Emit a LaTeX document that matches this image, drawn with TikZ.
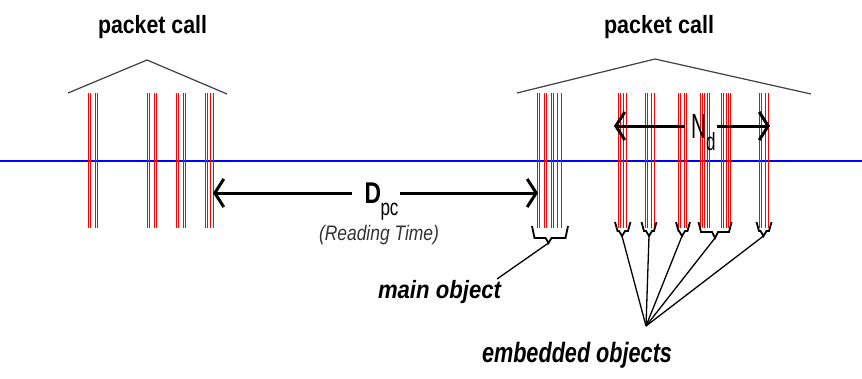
\documentclass[tikz,border=0pt]{standalone}
\usepackage{fontspec}
\setmainfont{Liberation Sans}
\usetikzlibrary{arrows.meta}
\newcommand\hfit[3]{\resizebox{#1}{\height}{\fontsize{#2}{#2}\selectfont #3}}
\newcommand\brk[6]{% xl xr xm ytop ysh ytip
  \draw[brkline] (#1,#4) -- ({#1+2.5},#5) -- ({#3-3},#5) -- (#3,#6) -- ({#3+3},#5) -- ({#2-2.5},#5) -- (#2,#4);}
\begin{document}
\begin{tikzpicture}[x=1pt,y=-1pt,
  txt/.style={inner sep=0pt, outer sep=0pt, anchor=base west},
  redline/.style={red, line width=1pt},
  roof/.style={black!75, line width=1.2pt},
  brkline/.style={black, line width=1.8pt, line join=miter},
  pointer/.style={black, line width=1.3pt},
  arr/.style={black, line width=3pt, -{Straight Barb[length=9pt,width=28pt]}}]
\useasboundingbox (0,0) rectangle (862,378);
\fill[white] (0,0) rectangle (862,378);

% time axis
\coordinate (axL) at (0,161);
\coordinate (axR) at (862,161);
\draw[blue, line width=1.6pt] (axL) -- (axR);

% left packet call
\node[txt] (pcL) at (98,33) {\hfit{109pt}{25pt}{\bfseries packet call}};
\coordinate (r1a) at (68,93);
\coordinate (r1p) at (147,60);
\coordinate (r1b) at (227,94);
\draw[roof] (r1a) -- (r1p) -- (r1b);
\foreach \x in {88.5,90.5,95.5,97.5, 147.5,149.5,154.5,156.5, 176.5,178.5,183.5,185.5, 205.5,207.5,210.5,213.5}
  \draw[redline] (\x,93) -- (\x,228);

% right packet call
\node[txt] (pcR) at (604,33) {\hfit{110pt}{25pt}{\bfseries packet call}};
\coordinate (r2a) at (517,93);
\coordinate (r2p) at (655,59);
\coordinate (r2b) at (811,94);
\draw[roof] (r2a) -- (r2p) -- (r2b);
% main object
\foreach \x in {537.5,539.5,544.5,546.5,551.5,553.5,557.5,561.5}
  \draw[redline] (\x,93) -- (\x,228);
% embedded objects
\foreach \x in {618.5,620.5,623.5,626.5, 645.5,647.5,651.5,654.5, 678.5,680.5,684.5,686.5,
                700.5,702.5,704.5,707.5,709.5, 721.5,723.5,726.5,728.5,730.5, 759.5,761.5,765.5,768.5}
  \draw[redline] (\x,93) -- (\x,228);

% brackets
\coordinate (tm) at (548.5,243);
\brk{532}{568}{548.5}{226}{238}{243}
\coordinate (t1) at (622,236);
\brk{615}{630.5}{622}{222}{231}{236}
\coordinate (t2) at (649,236);
\brk{641.5}{656.5}{649}{222}{231}{236}
\coordinate (t3) at (682,236);
\brk{676}{690}{682}{222}{231}{236}
\coordinate (t4) at (715,238);
\brk{698.5}{731.5}{715}{222}{232}{238}
\coordinate (t5) at (763.5,236);
\brk{756.5}{771.5}{763.5}{222}{231}{236}

% D_pc arrow
\node[txt] (D) at (364.5,203) {\hfit{16.5pt}{30pt}{\bfseries D}};
\node[txt] (Dsub) at (380.5,215) {\hfit{18pt}{23pt}{pc}};
\node[txt, text=black!80] (rt) at (319,240) {\hfit{120pt}{21pt}{\itshape (Reading Time)}};
\coordinate (dA) at (352,193);
\coordinate (dL) at (213,193);
\coordinate (dB) at (400,193);
\coordinate (dR) at (538,193);
\draw[arr] (dA) -- (dL);
\draw[arr] (dB) -- (dR);

% N_d arrow
\node[txt] (N) at (691,138) {\hfit{15pt}{35pt}{N}};
\node[txt] (Nsub) at (706,150) {\hfit{9.5pt}{25pt}{d}};
\coordinate (nA) at (685,126);
\coordinate (nL) at (614,126);
\coordinate (nB) at (717,126);
\coordinate (nR) at (770,126);
\draw[arr] (nA) -- (nL);
\draw[arr] (nB) -- (nR);

% labels
\node[txt] (mo) at (378,298) {\hfit{123pt}{25pt}{\bfseries\itshape main object}};
\node[txt] (eo) at (482,362) {\hfit{190pt}{28pt}{\bfseries\itshape embedded objects}};
\coordinate (mend) at (497,279);
\draw[pointer] (tm) -- (mend);
\coordinate (conv) at (646,326);
\foreach \t in {t1,t2,t3,t4,t5}
  \draw[pointer] (\t) -- (conv);
\end{tikzpicture}
\end{document}
